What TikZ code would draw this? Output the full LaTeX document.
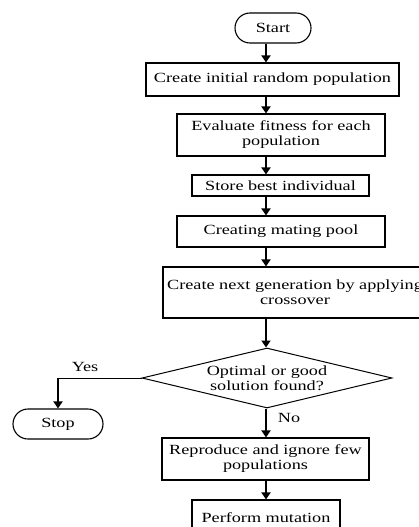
\documentclass[tikz,border=0pt]{standalone}
\usepackage{fontspec}
\setmainfont[FakeStretch=1.3]{Liberation Serif}
\usepackage{tikz}
\usetikzlibrary{calc}
\usetikzlibrary{shapes}
\usetikzlibrary{arrows.meta}
\tikzset{
  proc/.style={draw, line width=1.1pt, fill=white, align=center, inner sep=1pt,
               font=\fontsize{14}{15}\selectfont},
  term/.style={proc, rounded corners=15pt},
  decide/.style={draw, line width=1pt, shape=diamond, aspect=4.2, inner sep=0pt, align=center,
                 font=\fontsize{14}{15}\selectfont},
  arr/.style={line width=2.2pt, -{Triangle[length=7pt,width=9pt]}},
  lbl/.style={font=\fontsize{14}{15}\selectfont}
}
\newcommand{\procbox}[6]{\node[proc, minimum width=#4, minimum height=#5] (#1) at ( #2 , #3 ) {#6};}
\newcommand{\termbox}[5]{\node[term, minimum width=#4, minimum height=30] (#1) at ( #2 , #3 ) {#5};}
\begin{document}
\begin{tikzpicture}[x=1pt,y=-1pt]
  \useasboundingbox (0,0) rectangle (419,527);
  \coordinate (spine) at (266,0);
  % terminals
  \termbox{start}{273}{28}{76}{Start}
  \termbox{stop}{58}{424}{90}{Stop}
  % steps
  \procbox{init}{272.5}{79.5}{253}{33}{Create initial random population}
  \procbox{eval}{281}{135}{208}{42}{Evaluate fitness for each\\population}
  \procbox{best}{280.5}{185.5}{177}{21}{Store best individual}
  \procbox{pool}{281}{231.5}{208}{31}{Creating mating pool}
  \procbox{cross}{295}{292.5}{264}{51}{Create next generation by applying\\crossover}
  % decision
  \node[decide, minimum width=250, minimum height=60] (found) at (267,378) {Optimal or good\\solution found?};
  \procbox{repro}{265.5}{459}{207}{42}{Reproduce and ignore few\\populations}
  \procbox{mutate}{266}{518}{148}{36}{Perform mutation}
  % arrows
  \draw[arr] (start.south -| spine) -- (init.north -| spine);
  \draw[arr] (init.south -| spine) -- (eval.north -| spine);
  \draw[arr] (eval.south -| spine) -- (best.north -| spine);
  \draw[arr] (best.south -| spine) -- (pool.north -| spine);
  \draw[arr] (pool.south -| spine) -- (cross.north -| spine);
  \draw[arr] (cross.south -| spine) -- (found.north -| spine);
  \draw[arr] (found.south -| spine) -- (repro.north -| spine);
  \draw[arr] (repro.south -| spine) -- (mutate.north -| spine);
  \draw[line width=1pt] (found.west) -- (found.west -| stop.north);
  \draw[arr] (found.west -| stop.north) -- (stop.north);
  % labels
  \node[lbl] (yes) at (85,367) {Yes};
  \node[lbl] (no) at (289,418) {No};
\end{tikzpicture}
\end{document}
